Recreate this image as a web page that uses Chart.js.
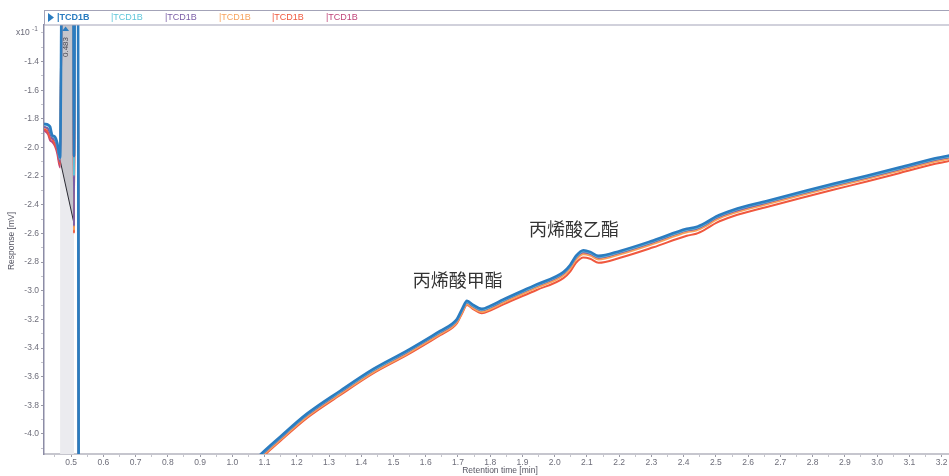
<!DOCTYPE html>
<html>
<head>
<meta charset="utf-8">
<script src="https://cdn.jsdelivr.net/npm/chart.js@4.4.1/dist/chart.umd.min.js"></script>
<style>
  html, body { margin: 0; padding: 0; background: #fff; }
  #wrap { width: 949px; height: 476px; position: relative; }
</style>
</head>
<body>
<div id="wrap"><canvas id="tcd-chart"></canvas></div>
<script>
// retention time [min] shared by all six TCD1B runs
const retentionTimes = [
  0.416, 0.429, 0.435, 0.441, 0.450, 0.457, 0.466,
  0.472, 0.507, 0.509, 0.512, 0.521, 0.525,
  0.95, 1.02, 1.086, 1.148, 1.231, 1.334, 1.438, 1.541, 1.645, 1.681,
  1.697, 1.713, 1.728, 1.747, 1.774, 1.800, 1.841, 1.944, 2.027, 2.048,
  2.066, 2.089, 2.110, 2.136, 2.203, 2.306, 2.410, 2.439, 2.467, 2.501,
  2.553, 2.658, 2.761, 2.864, 2.968, 3.071, 3.174, 3.226
];

// response in units of 0.1 mV
const runBlue = [
  -1.835, -1.842, -1.856, -1.912, -1.926, -1.968, -2.07,
  -0.6, -0.6, -2.06, -0.6, -0.6, -6.0,
  -4.45, -4.30, -4.147, -4.021, -3.860, -3.700, -3.546, -3.420, -3.281, -3.232,
  -3.197, -3.127, -3.071, -3.099, -3.127, -3.106, -3.061, -2.956, -2.869, -2.820,
  -2.757, -2.718, -2.729, -2.757, -2.722, -2.649, -2.568, -2.556, -2.527, -2.481,
  -2.436, -2.373, -2.313, -2.254, -2.198, -2.139, -2.079, -2.055
];
const runCyan = [
  -1.840, -1.848, -1.870, -1.915, -1.935, -1.975, -2.08,
  -0.6, -0.6, -2.20, -0.6, -0.6, -6.0,
  -4.46, -4.31, -4.153, -4.027, -3.866, -3.706, -3.552, -3.426, -3.287, -3.238,
  -3.203, -3.133, -3.078, -3.105, -3.133, -3.112, -3.067, -2.962, -2.875, -2.826,
  -2.764, -2.725, -2.735, -2.763, -2.728, -2.655, -2.574, -2.562, -2.533, -2.487,
  -2.442, -2.379, -2.319, -2.260, -2.204, -2.145, -2.085, -2.061
];
const runPurple = [
  -1.855, -1.870, -1.900, -1.935, -1.950, -2.000, -2.10,
  -0.6, -0.6, -2.55, -0.6, -0.6, -6.0,
  -4.46, -4.31, -4.157, -4.031, -3.870, -3.710, -3.556, -3.430, -3.291, -3.242,
  -3.207, -3.137, -3.082, -3.110, -3.137, -3.116, -3.071, -2.966, -2.880, -2.831,
  -2.768, -2.729, -2.740, -2.768, -2.733, -2.660, -2.579, -2.567, -2.538, -2.492,
  -2.447, -2.384, -2.323, -2.265, -2.209, -2.150, -2.090, -2.066
];
const runOrange = [
  -1.860, -1.870, -1.895, -1.925, -1.945, -1.990, -2.09,
  -0.6, -0.6, -2.58, -0.6, -0.6, -6.0,
  -4.47, -4.32, -4.169, -4.043, -3.882, -3.722, -3.568, -3.442, -3.303, -3.255,
  -3.220, -3.150, -3.095, -3.122, -3.149, -3.128, -3.083, -2.979, -2.893, -2.845,
  -2.784, -2.745, -2.755, -2.782, -2.746, -2.673, -2.592, -2.580, -2.551, -2.505,
  -2.460, -2.397, -2.336, -2.277, -2.221, -2.162, -2.102, -2.078
];
const runRed = [
  -1.870, -1.895, -1.935, -1.940, -1.980, -2.020, -2.12,
  -0.6, -0.6, -2.60, -0.6, -0.6, -6.0,
  -4.48, -4.33, -4.177, -4.051, -3.890, -3.730, -3.576, -3.450, -3.311, -3.262,
  -3.227, -3.157, -3.100, -3.128, -3.157, -3.138, -3.095, -2.995, -2.912, -2.866,
  -2.805, -2.768, -2.777, -2.805, -2.770, -2.697, -2.616, -2.602, -2.572, -2.526,
  -2.480, -2.415, -2.354, -2.295, -2.238, -2.178, -2.117, -2.093
];
const runMagenta = [
  -1.880, -1.910, -1.950, -1.960, -1.990, -2.040, -2.14,
  -0.6, -0.6, -2.57, -0.6, -0.6, -6.0,
  -4.47, -4.32, -4.163, -4.037, -3.876, -3.716, -3.562, -3.436, -3.297, -3.248,
  -3.213, -3.144, -3.088, -3.116, -3.143, -3.122, -3.077, -2.972, -2.886, -2.838,
  -2.776, -2.737, -2.747, -2.775, -2.740, -2.667, -2.586, -2.574, -2.545, -2.499,
  -2.454, -2.391, -2.330, -2.271, -2.215, -2.156, -2.096, -2.072
];

const seriesNames = ['TCD1B', 'TCD1B', 'TCD1B', 'TCD1B', 'TCD1B', 'TCD1B'];
const seriesValues = [runBlue, runCyan, runPurple, runOrange, runRed, runMagenta];
const seriesColors = ['#2b7cc0', '#5ec6da', '#7b5ea7', '#f7a25c', '#f0583e', '#c0457a'];

// integrated solvent peak: start/end of the baseline
const peakBaseTimes = [0.466, 0.509];
const peakBaseValues = [-2.09, -2.53];
const peakApexTime = 0.483;

const xMajorTicks = [0.5, 0.6, 0.7, 0.8, 0.9, 1.0, 1.1, 1.2, 1.3, 1.4, 1.5, 1.6, 1.7, 1.8,
  1.9, 2.0, 2.1, 2.2, 2.3, 2.4, 2.5, 2.6, 2.7, 2.8, 2.9, 3.0, 3.1, 3.2];
const yMajorTicks = [-4.0, -3.8, -3.6, -3.4, -3.2, -3.0, -2.8, -2.6, -2.4, -2.2, -2.0, -1.8, -1.6, -1.4];

const compoundLabels = [
  { text: '丙烯酸甲酯', t: 1.699, v: -2.924 },
  { text: '丙烯酸乙酯', t: 2.060, v: -2.572 }
];

const key = v => Math.round(v * 100);
const xLabelSet = new Set(xMajorTicks.map(key));
const yLabelSet = new Set(yMajorTicks.map(key));

const datasets = seriesValues.map((vals, i) => ({
  label: seriesNames[i],
  data: vals.map((v, j) => ({ x: retentionTimes[j], y: v })),
  borderColor: seriesColors[i],
  borderWidth: i === 0 ? 2.6 : 2,
  pointRadius: 0,
  fill: false,
  cubicInterpolationMode: 'monotone',
  order: i
}));

// shaded integration window and the area above its baseline
datasets.push({
  label: 'window',
  data: peakBaseTimes.map(t => ({ x: t, y: -1.0 })),
  borderWidth: 0,
  pointRadius: 0,
  backgroundColor: '#ebebef',
  fill: 'start',
  order: 20
});
datasets.push({
  label: 'baseline',
  data: peakBaseTimes.map((t, i) => ({ x: t, y: peakBaseValues[i] })),
  borderColor: '#2a2a33',
  borderWidth: 1,
  pointRadius: 0,
  backgroundColor: '#c5c5cb',
  fill: 'end',
  order: 10
});

const decor = {
  id: 'decor',
  afterDraw(chart) {
    const c = chart.ctx;
    const xs = chart.scales.x, ys = chart.scales.y;
    const area = chart.chartArea;
    c.save();

    // legend strip
    c.strokeStyle = '#a3a3b8';
    c.lineWidth = 1;
    c.strokeRect(area.left + 0.5, 10.5, chart.width - area.left, 14.5);
    c.fillStyle = '#2b7cc0';
    c.beginPath();
    c.moveTo(48, 13); c.lineTo(54, 17.5); c.lineTo(48, 22); c.closePath();
    c.fill();
    c.textBaseline = 'middle';
    c.textAlign = 'left';
    const legendX = [57, 111, 165, 219, 272, 326];
    seriesNames.forEach((name, i) => {
      c.fillStyle = seriesColors[i];
      c.font = (i === 0 ? '600 ' : '') + '9px "Liberation Sans", Arial, sans-serif';
      c.fillText('|' + name, legendX[i], 18);
    });

    // exponent label on the y axis
    c.fillStyle = '#6a6a78';
    c.font = '8.5px "Liberation Sans", Arial, sans-serif';
    c.textAlign = 'left';
    c.textBaseline = 'alphabetic';
    c.fillText('x10', 16, 35);
    c.font = '6.5px "Liberation Sans", Arial, sans-serif';
    c.fillText('-1', 32, 31);

    // axis titles
    c.fillStyle = '#555562';
    c.font = '8.5px "Liberation Sans", Arial, sans-serif';
    c.textAlign = 'center';
    c.textBaseline = 'middle';
    c.fillText('Retention time [min]', 500, 471);
    c.save();
    c.translate(12, 241);
    c.rotate(-Math.PI / 2);
    c.fillText('Response [mV]', 0, 0);
    c.restore();

    // peak apex marker with retention time
    const px = xs.getPixelForValue(peakApexTime);
    c.fillStyle = '#2b7cc0';
    c.beginPath();
    c.moveTo(px, 26.5); c.lineTo(px + 3.5, 31); c.lineTo(px - 3.5, 31); c.closePath();
    c.fill();
    c.save();
    c.translate(px, 47);
    c.rotate(-Math.PI / 2);
    c.fillStyle = '#4a4a55';
    c.font = '8px "Liberation Sans", Arial, sans-serif';
    c.fillText(peakApexTime.toFixed(3), 0, 0);
    c.restore();

    // compound names
    c.fillStyle = '#333333';
    c.font = '18px "Noto Sans CJK SC", sans-serif';
    compoundLabels.forEach(l => {
      c.fillText(l.text, xs.getPixelForValue(l.t), ys.getPixelForValue(l.v));
    });
    c.restore();
  }
};

new Chart(document.getElementById('tcd-chart'), {
  type: 'line',
  data: { datasets },
  options: {
    responsive: true,
    maintainAspectRatio: false,
    animation: false,
    layout: { padding: { top: 25, right: 0, left: 0, bottom: 0 } },
    plugins: { legend: { display: false }, tooltip: { enabled: false } },
    scales: {
      x: {
        type: 'linear',
        min: 0.416,
        max: 3.223,
        afterFit: s => { s.height = 22; },
        afterBuildTicks: axis => {
          const all = [0.45].concat(xMajorTicks.flatMap(v => [v, v + 0.05])).filter(v => v <= 3.22);
          axis.ticks = all.map(v => ({ value: v }));
        },
        ticks: {
          autoSkip: false,
          maxRotation: 0,
          padding: 1,
          color: '#6e6e7a',
          font: { size: 8.5, family: '"Liberation Sans", Arial, sans-serif' },
          callback: v => xLabelSet.has(key(v)) ? v.toFixed(1) : ''
        },
        grid: {
          drawOnChartArea: false,
          drawTicks: true,
          tickLength: 3,
          tickColor: ctx => (ctx.tick && ctx.tick.label) ? '#9a9aa6' : '#c4c4cc'
        },
        border: { color: '#c6c6ce', width: 2 }
      },
      y: {
        type: 'linear',
        min: -4.14,
        max: -1.145,
        afterFit: s => { s.width = 44; },
        afterBuildTicks: axis => {
          const all = yMajorTicks.flatMap(v => [v - 0.1, v]).concat([-1.3, -1.2]);
          axis.ticks = all.map(v => ({ value: v }));
        },
        ticks: {
          autoSkip: false,
          padding: 2,
          color: '#6e6e7a',
          font: { size: 8.5, family: '"Liberation Sans", Arial, sans-serif' },
          callback: v => yLabelSet.has(key(v)) ? v.toFixed(1) : ''
        },
        grid: {
          drawOnChartArea: false,
          drawTicks: true,
          tickLength: 3,
          tickColor: ctx => (ctx.tick && ctx.tick.label) ? '#9a9aa6' : '#c4c4cc'
        },
        border: { color: '#8c8ca6', width: 1.5 }
      }
    }
  },
  plugins: [decor]
});
</script>
</body>
</html>
